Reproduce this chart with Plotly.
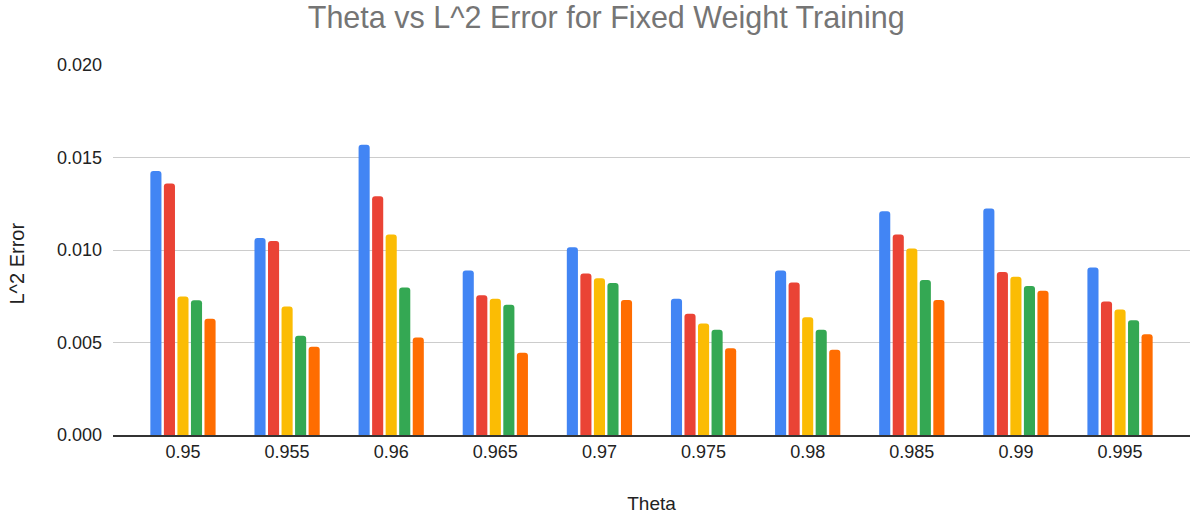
import plotly.graph_objects as go

categories = ["0.95", "0.955", "0.96", "0.965", "0.97", "0.975", "0.98", "0.985", "0.99", "0.995"]
series_names = ["Series 1", "Series 2", "Series 3", "Series 4", "Series 5"]
s1 = [0.01427, 0.01065, 0.01569, 0.00889, 0.01015, 0.00737, 0.00889, 0.01209, 0.01225, 0.00905]
s2 = [0.01360, 0.01049, 0.01291, 0.00755, 0.00873, 0.00656, 0.00824, 0.01084, 0.00881, 0.00721]
s3 = [0.00748, 0.00695, 0.01084, 0.00737, 0.00847, 0.00603, 0.00636, 0.01008, 0.00856, 0.00679]
s4 = [0.00729, 0.00536, 0.00797, 0.00704, 0.00822, 0.00569, 0.00569, 0.00838, 0.00805, 0.00620]
s5 = [0.00628, 0.00477, 0.00527, 0.00444, 0.00730, 0.00469, 0.00461, 0.00730, 0.00780, 0.00545]
colors = ["#4285F4", "#EA4335", "#FBBC04", "#34A853", "#FF6D01"]

fig = go.Figure()
for name, vals, c in zip(series_names, [s1, s2, s3, s4, s5], colors):
    fig.add_trace(go.Bar(x=categories, y=vals, name=name, marker=dict(color=c, line=dict(width=0))))

font = "Arial, Liberation Sans, sans-serif"
fig.update_layout(
    width=1191, height=514,
    margin=dict(l=113, r=1, t=65, b=79),
    paper_bgcolor="white", plot_bgcolor="white",
    barmode="group", bargap=0.35, bargroupgap=0.18, barcornerradius=3,
    showlegend=False,
    title=dict(text="Theta vs L^2 Error for Fixed Weight Training", xref="container", x=0.509,
               xanchor="center", yref="container", y=0.966, yanchor="middle",
               font=dict(family=font, size=30.5, color="#757575")),
    font=dict(family=font, size=18, color="#222222"),
    xaxis=dict(type="category", range=[-0.672, 9.672], showgrid=False, showline=True,
               linecolor="#333333", linewidth=1.5, ticks="", tickfont=dict(size=18, color="#222222"),
               automargin=False,
               title=dict(text="Theta", font=dict(size=19, color="#222222"), standoff=42)),
    yaxis=dict(range=[0, 0.020], tickvals=[0, 0.005, 0.010, 0.015, 0.020], tickformat=".3f",
               showgrid=True, gridcolor="#cccccc", gridwidth=1, zeroline=False, showline=False,
               ticks="", tickfont=dict(size=18, color="#222222"), ticklabelstandoff=10,
               automargin=False),
    annotations=[dict(text="L^2 Error", xref="paper", yref="paper", x=-113 / 1077 + 16.5 / 1077,
                      y=(435 - 264) / 370, xanchor="center", yanchor="middle", textangle=-90,
                      showarrow=False, font=dict(family=font, size=20, color="#222222"))],
)
fig.write_html("out.html", config={"displayModeBar": False},
               post_script="document.body.style.margin='0';")
